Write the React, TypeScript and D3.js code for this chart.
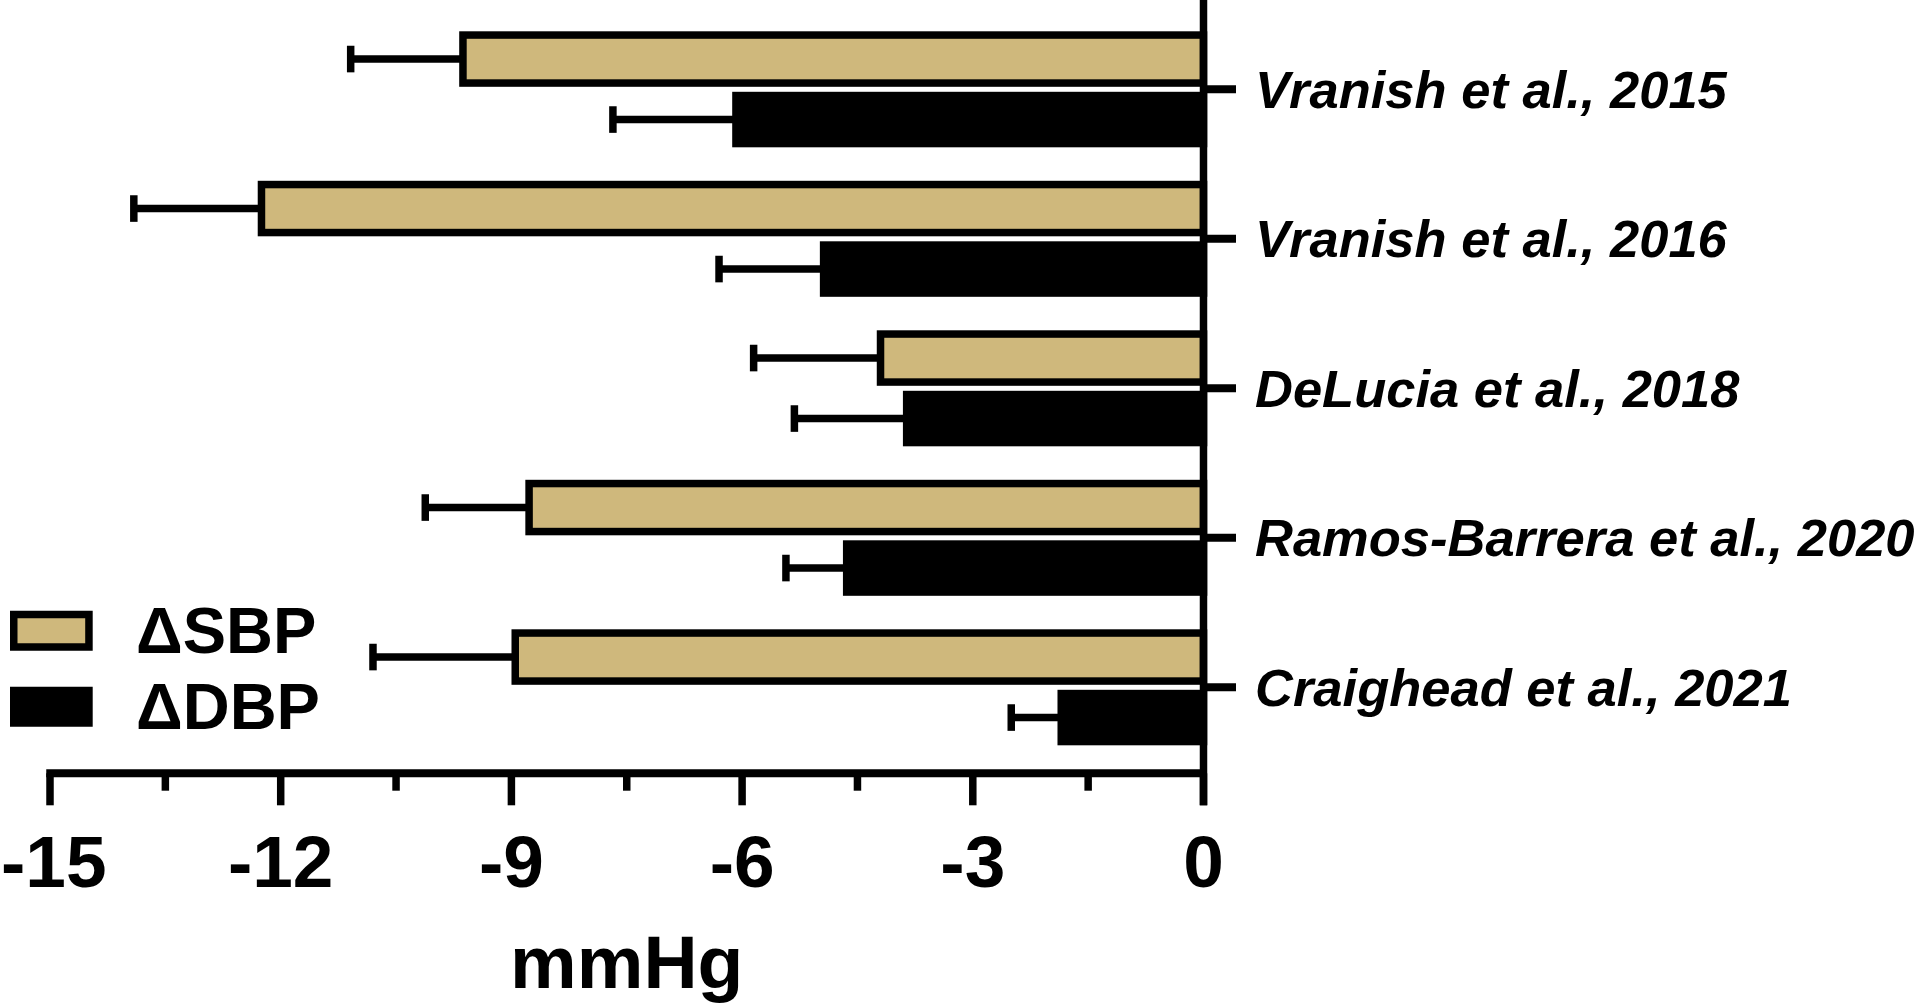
import React from "react";
import * as d3 from "d3";

const studies = [
  "Vranish et al., 2015",
  "Vranish et al., 2016",
  "DeLucia et al., 2018",
  "Ramos-Barrera et al., 2020",
  "Craighead et al., 2021",
];
const seriesKeys = ["SBP", "DBP"];
const seriesLabels = ["ΔSBP", "ΔDBP"];
const sbpMean = [-9.63, -12.25, -4.2, -8.77, -8.95];
const sbpSem = [1.46, 1.66, 1.65, 1.35, 1.85];
const dbpMean = [-6.08, -4.94, -3.86, -4.64, -1.85];
const dbpSem = [1.6, 1.36, 1.46, 0.79, 0.65];
const majorTicks = [-15, -12, -9, -6, -3, 0];
const minorTicks = [-13.5, -10.5, -7.5, -4.5, -1.5];
const xTitle = "mmHg";

const GOLD = "#CFB87C";
const SW = 7.5;
const FONT = "Arial, 'Liberation Sans', Helvetica, sans-serif";

export default function App() {
  const W = 1920;
  const H = 1004;
  const x = d3.scaleLinear().domain([-15, 0]).range([50, 1203.5]);
  const y0 = d3
    .scaleBand<string>()
    .domain(studies)
    .range([14.55, 762.05])
    .paddingInner(0.224)
    .paddingOuter(0.112);
  const y1 = d3
    .scaleBand<string>()
    .domain(seriesKeys)
    .range([0, y0.bandwidth()])
    .paddingInner(0.0826)
    .paddingOuter(0);

  const axisY = 773.3;
  const zeroX = x(0);
  const tickFont = 73;

  const bars: any[] = [];
  studies.forEach((s, i) => {
    [
      { key: "SBP", mean: sbpMean[i], sem: sbpSem[i], fill: GOLD },
      { key: "DBP", mean: dbpMean[i], sem: dbpSem[i], fill: "#000" },
    ].forEach((d) => {
      const top = (y0(s) as number) + (y1(d.key) as number);
      const bw = y1.bandwidth();
      const cy = top + bw / 2;
      const xv = x(d.mean);
      const xe = x(d.mean - d.sem);
      bars.push(
        <g key={s + d.key}>
          <line x1={xv} x2={xe} y1={cy} y2={cy} stroke="#000" strokeWidth={SW} />
          <line x1={xe} x2={xe} y1={cy - 13.3} y2={cy + 13.3} stroke="#000" strokeWidth={SW} />
          <rect
            x={xv}
            y={top + SW / 2}
            width={zeroX - xv}
            height={bw - SW}
            fill={d.fill}
            stroke="#000"
            strokeWidth={SW}
          />
        </g>
      );
    });
  });

  return (
    <svg
      width={W}
      height={H}
      style={{ position: "absolute", left: 0, top: 0, background: "#fff" }}
      fontFamily={FONT}
    >
      <rect x={0} y={0} width={W} height={H} fill="#fff" />
      {bars}
      {/* x axis */}
      <line x1={x(-15) - SW / 2} x2={zeroX} y1={axisY} y2={axisY} stroke="#000" strokeWidth={8} />
      {majorTicks.map((t) => {
        const halfW = (String(t).length * 0.556 + (t < 0 ? -0.223 : 0)) * tickFont / 2;
        return (
          <g key={"mt" + t}>
            <line x1={x(t)} x2={x(t)} y1={axisY} y2={805.3} stroke="#000" strokeWidth={SW} />
            <text
              x={Math.max(x(t), halfW + 1)}
              y={887}
              textAnchor="middle"
              fontSize={tickFont}
              fontWeight="bold"
              fill="#000"
            >
              {t}
            </text>
          </g>
        );
      })}
      {minorTicks.map((t) => (
        <line key={"mn" + t} x1={x(t)} x2={x(t)} y1={axisY} y2={790.7} stroke="#000" strokeWidth={SW} />
      ))}
      <text
        x={(x(-15) + zeroX) / 2}
        y={988}
        textAnchor="middle"
        fontSize={75}
        fontWeight="bold"
        fill="#000"
      >
        {xTitle}
      </text>
      {/* y axis */}
      <line x1={zeroX} x2={zeroX} y1={0} y2={805.3} stroke="#000" strokeWidth={SW} />
      {studies.map((s) => {
        const cy = (y0(s) as number) + y0.bandwidth() / 2;
        return (
          <g key={"yt" + s}>
            <line x1={zeroX} x2={1236} y1={cy} y2={cy} stroke="#000" strokeWidth={8} />
            <text
              x={1255}
              y={cy + 18.5}
              fontSize={52.5}
              fontWeight="bold"
              fontStyle="italic"
              fill="#000"
            >
              {s}
            </text>
          </g>
        );
      })}
      {/* legend */}
      {seriesLabels.map((lab, i) => (
        <g key={"lg" + i}>
          <rect
            x={13.75}
            y={614.5 + i * 76}
            width={75.2}
            height={32.5}
            fill={i === 0 ? GOLD : "#000"}
            stroke="#000"
            strokeWidth={SW}
          />
          <text x={136} y={653.3 + i * 76} fontSize={65} fontWeight="bold" fill="#000">
            {lab}
          </text>
        </g>
      ))}
    </svg>
  );
}
